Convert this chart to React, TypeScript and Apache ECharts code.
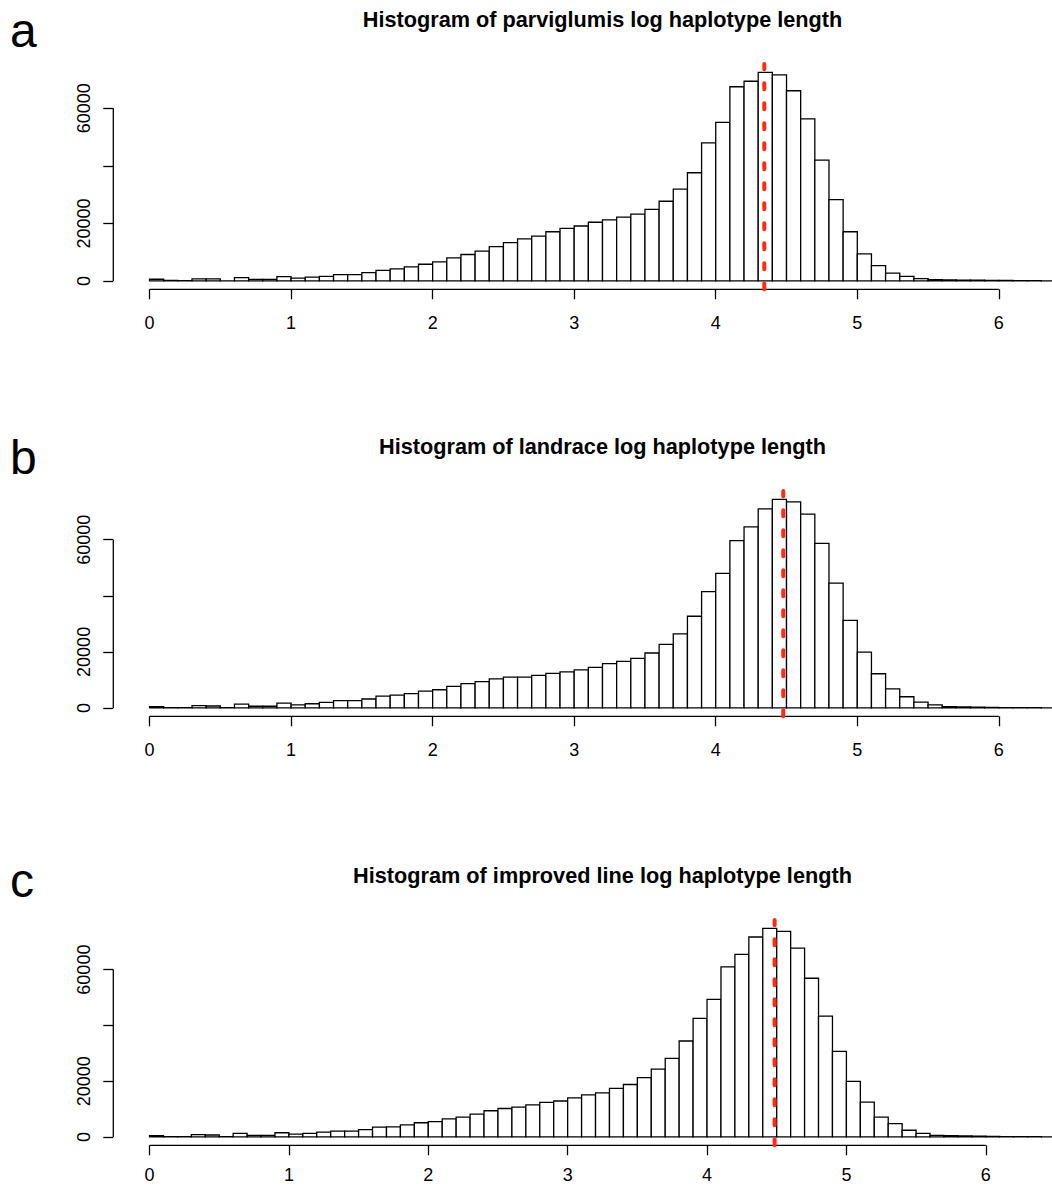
import React, { useEffect, useRef } from "react";
import * as echarts from "echarts";

// ---------- data ----------
const BIN_START = 0;
const BIN_WIDTH = 0.1;

const TITLES = [
  "Histogram of parviglumis log haplotype length",
  "Histogram of landrace log haplotype length",
  "Histogram of improved line log haplotype length",
];
const PANEL_LETTERS = ["a", "b", "c"];

const parviglumisCounts = [
  600, 150, 100, 700, 700, 50, 1150, 550, 550, 1500,
  1000, 1300, 1600, 2200, 2200, 2900, 3700, 4200, 4900, 5800,
  6600, 8000, 9200, 10400, 11900, 13300, 14600, 15600, 17100, 18300,
  19100, 20400, 21200, 22200, 23200, 24900, 27700, 31900, 37600, 48000,
  55100, 67500, 69400, 72500, 71600, 66100, 56300, 42000, 28300, 17100,
  9400, 5300, 2700, 1600, 800, 450, 350, 300, 250, 200,
  150, 100, 80, 60,
];

const landraceCounts = [
  500, 100, 100, 800, 700, 100, 1400, 600, 600, 1700,
  1100, 1500, 2000, 2600, 2600, 3200, 4200, 4600, 5100, 6000,
  6500, 7700, 8700, 9400, 10400, 11000, 11000, 11600, 12300, 12900,
  13600, 14500, 15800, 16600, 17700, 19600, 22700, 26400, 32700, 41500,
  48000, 59700, 64600, 71000, 74400, 73500, 69100, 58700, 44500, 31200,
  19900, 12200, 6800, 4000, 2100, 1100, 500, 350, 250, 200,
  150, 100, 80, 60,
];

const improvedCounts = [
  500, 100, 100, 800, 700, 100, 1300, 600, 600, 1500,
  1000, 1300, 1700, 2100, 2100, 2600, 3500, 3600, 4300, 5100,
  5500, 6500, 7100, 8200, 9400, 10200, 10700, 11500, 12400, 12900,
  14000, 15100, 15800, 17400, 18800, 21300, 24300, 28200, 34400, 42500,
  49300, 61000, 65500, 71700, 74800, 73700, 67700, 56900, 43300, 30700,
  19900, 12500, 7100, 4800, 2400, 1300, 600, 450, 350, 250,
  200, 150, 100, 80, 60,
];

const medianLines = [4.343, 4.477, 4.485];

const xTicks = [0, 1, 2, 3, 4, 5, 6];
const yTicks = [0, 20000, 40000, 60000];
const yTickLabels = [0, 20000, 60000];

const PANELS = [parviglumisCounts, landraceCounts, improvedCounts];

// ---------- layout ----------
const W = 1052;
const H = 1187;
const PLOT_LEFT = 113.3;
const PLOT_WIDTH = 978.4;
const PLOT_TOPS = [64, 491, 920];
const PLOT_HEIGHT = 225.3;
const LETTER_Y = [30, 457, 880];
const X_LABEL_MARGIN = [25, 25, 21];
const FONT = "'Liberation Sans', Arial, Helvetica, sans-serif";
const LW = 1.3;
const RED = "#ff2a14";

function buildOption() {
  const grid: any[] = [];
  const xAxis: any[] = [];
  const yAxis: any[] = [];
  const series: any[] = [];
  const graphic: any[] = [];

  PANELS.forEach((counts, i) => {
    const breaksEnd = BIN_START + counts.length * BIN_WIDTH;
    const xr = breaksEnd - BIN_START;
    const xMin = BIN_START - 0.04 * xr;
    const xMax = breaksEnd + 0.04 * xr;
    const M = Math.max(...counts);
    const yMin = -0.04 * M;
    const yMax = 1.04 * M;
    const top = PLOT_TOPS[i];

    grid.push({
      left: PLOT_LEFT,
      top,
      width: PLOT_WIDTH,
      height: PLOT_HEIGHT,
      containLabel: false,
      outerBoundsMode: "none",
    });

    xAxis.push({
      type: "value",
      gridIndex: i,
      position: "bottom",
      min: xMin,
      max: xMax,
      axisLine: { show: false, onZero: false },
      splitLine: { show: false },
      axisTick: {
        show: true,
        customValues: xTicks,
        length: 10,
        lineStyle: { color: "#000", width: LW },
      },
      axisLabel: {
        show: true,
        customValues: xTicks,
        margin: X_LABEL_MARGIN[i],
        color: "#000",
        fontSize: 18,
        fontFamily: FONT,
        formatter: (v: number) => String(v),
      },
    });

    yAxis.push({
      type: "value",
      gridIndex: i,
      position: "left",
      min: yMin,
      max: yMax,
      axisLine: { show: false, onZero: false },
      splitLine: { show: false },
      axisTick: {
        show: true,
        customValues: yTicks,
        length: 10,
        lineStyle: { color: "#000", width: LW },
      },
      axisLabel: {
        show: true,
        customValues: yTickLabels,
        rotate: 90,
        margin: 20,
        color: "#000",
        fontSize: 18,
        fontFamily: FONT,
        formatter: (v: number) => String(v),
      },
    });

    const data = counts.map((c, k) => [
      BIN_START + k * BIN_WIDTH,
      BIN_START + (k + 1) * BIN_WIDTH,
      c,
    ]);

    series.push({
      type: "custom",
      xAxisIndex: i,
      yAxisIndex: i,
      clip: true,
      encode: { x: [0, 1], y: 2 },
      data,
      renderItem: (_params: any, api: any) => {
        const p0 = api.coord([api.value(0), api.value(2)]);
        const p1 = api.coord([api.value(1), 0]);
        return {
          type: "rect",
          shape: { x: p0[0], y: p0[1], width: p1[0] - p0[0], height: p1[1] - p0[1] },
          style: { fill: "#fff", stroke: "#000", lineWidth: LW },
        };
      },
      z: 2,
    });

    // x axis line (from first to last tick)
    series.push({
      type: "line",
      xAxisIndex: i,
      yAxisIndex: i,
      clip: false,
      symbol: "none",
      silent: true,
      data: [
        [xTicks[0], yMin],
        [xTicks[xTicks.length - 1], yMin],
      ],
      lineStyle: { color: "#000", width: LW },
      z: 3,
    });
    // y axis line
    series.push({
      type: "line",
      xAxisIndex: i,
      yAxisIndex: i,
      clip: false,
      symbol: "none",
      silent: true,
      data: [
        [xMin, yTicks[0]],
        [xMin, yTicks[yTicks.length - 1]],
      ],
      lineStyle: { color: "#000", width: LW },
      z: 3,
    });
    // red dashed line
    series.push({
      type: "line",
      xAxisIndex: i,
      yAxisIndex: i,
      clip: false,
      symbol: "none",
      silent: true,
      data: [
        [medianLines[i], yMin],
        [medianLines[i], yMax],
      ],
      lineStyle: { color: RED, width: 4, type: [6, 14], cap: "round" },
      z: 5,
    });

    graphic.push({
      type: "text",
      x: PLOT_LEFT + PLOT_WIDTH / 2,
      y: top - 44.5,
      style: {
        text: TITLES[i],
        fontSize: 21.7,
        fontWeight: "bold",
        fontFamily: FONT,
        fill: "#000",
        align: "center",
        verticalAlign: "middle",
      },
    });
    graphic.push({
      type: "text",
      x: 10,
      y: LETTER_Y[i],
      style: {
        text: PANEL_LETTERS[i],
        fontSize: 48,
        fontFamily: FONT,
        fill: "#000",
        align: "left",
        verticalAlign: "middle",
      },
    });
  });

  return {
    animation: false,
    backgroundColor: "#fff",
    grid,
    xAxis,
    yAxis,
    series,
    graphic,
  };
}

export default function App() {
  const ref = useRef<HTMLDivElement>(null);
  useEffect(() => {
    if (!ref.current) return;
    const chart = echarts.init(ref.current, undefined, { renderer: "svg", width: W, height: H });
    chart.setOption(buildOption() as any);
    return () => chart.dispose();
  }, []);
  return (
    <div
      ref={ref}
      style={{ position: "absolute", left: 0, top: 0, width: W, height: H, background: "#fff" }}
    />
  );
}
